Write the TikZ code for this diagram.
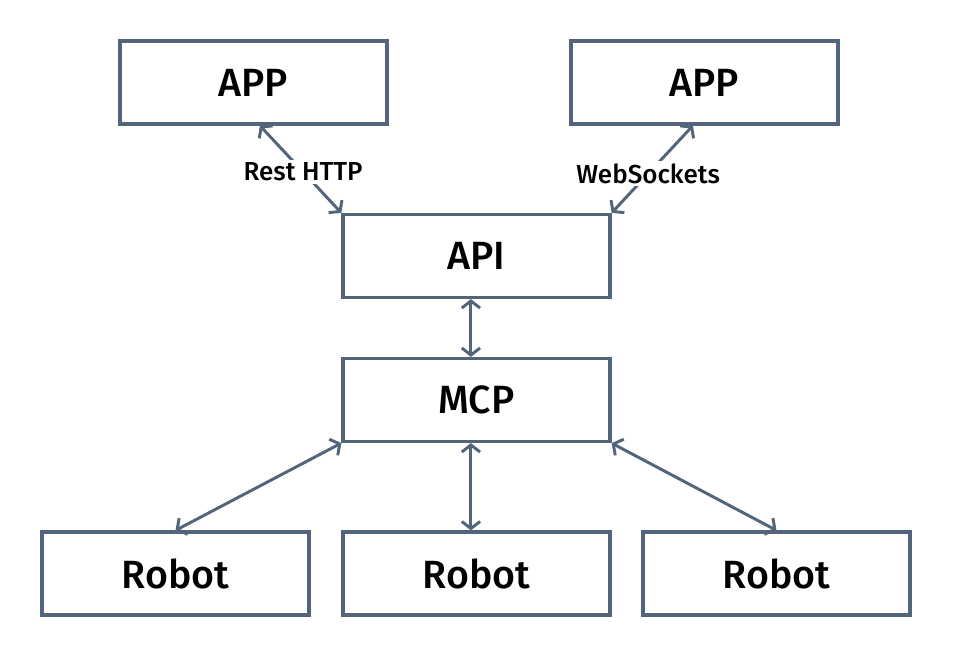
\documentclass[tikz,border=0pt]{standalone}
\usepackage{fontspec}
\setmainfont{Fira Sans}[BoldFont={Fira Sans Medium}]
\usepackage{xcolor}
\usetikzlibrary{arrows.meta}
\definecolor{boxline}{RGB}{82,101,122}

\tikzset{
  block/.style={draw=boxline, line width=2.3pt, minimum width=6.675cm,
    minimum height=2.075cm, inner sep=0pt, font=\fontsize{28}{31}\selectfont\bfseries},
  link/.style={draw=boxline, line width=2.1pt,
    {Straight Barb[length=5pt,width=13pt]}-{Straight Barb[length=5pt,width=13pt]}},
  tag/.style={fill=white, inner sep=2pt, font=\fontsize{18.5}{21}\selectfont\bfseries},
}

\begin{document}
\begin{tikzpicture}[x=0.025cm, y=-0.025cm]

  % canvas
  \useasboundingbox (0,0) rectangle (954,656);

  % top row: clients
  \node[block] (appL) at (253.5,82.5) {APP};
  \node[block] (appR) at (704.5,82.5) {APP};

  % middle: api and mcp
  \node[block] (api) at (476.5,256) {API};
  \node[block] (mcp) at (476.5,400) {MCP};

  % bottom row: robots
  \node[block] (robL) at (175.5,573.5) {Robot};
  \node[block] (robM) at (476.5,573.5) {Robot};
  \node[block] (robR) at (776.5,573.5) {Robot};

  % connections
  \draw[link] ([xshift=0.16cm]appL.south) -- (api.north west)
    node[tag, pos=0.53] (restlbl) {Rest HTTP};
  \draw[link] ([xshift=-0.29cm]appR.south) -- (api.north east)
    node[tag, pos=0.55] (wslbl) {WebSockets};
  \draw[link] ([xshift=-0.14cm]api.south) -- ([xshift=-0.14cm]mcp.north);
  \draw[link] (mcp.south west) -- (robL.north);
  \draw[link] ([xshift=-0.14cm]mcp.south) -- ([xshift=-0.14cm]robM.north);
  \draw[link] (mcp.south east) -- (robR.north);

\end{tikzpicture}
\end{document}
